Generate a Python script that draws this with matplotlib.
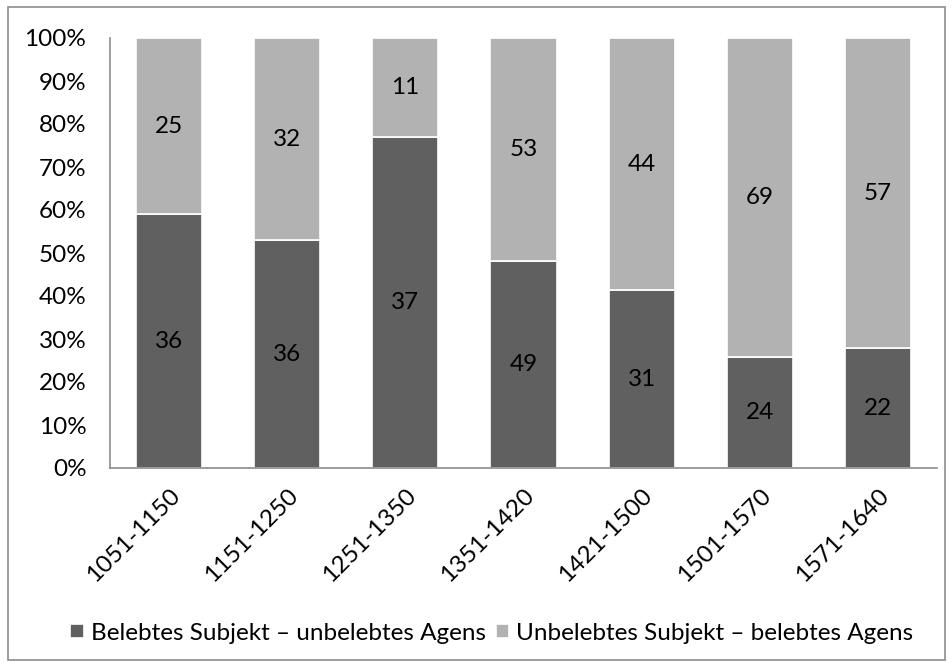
import numpy as np
import matplotlib
matplotlib.use('Agg')
from matplotlib import pyplot as plt
from matplotlib.patches import Rectangle

# Counts per period
periods = ['1051-1150', '1151-1250', '1251-1350', '1351-1420',
           '1421-1500', '1501-1570', '1571-1640']
belebt_subj = np.array([36, 36, 37, 49, 31, 24, 22])
unbelebt_subj = np.array([25, 32, 11, 53, 44, 69, 57])
series_names = ['Belebtes Subjekt \u2013 unbelebtes Agens',
                'Unbelebtes Subjekt \u2013 belebtes Agens']
colors = ['#606060', '#b2b2b2']

plt.rcParams['font.family'] = ['Lato', 'DejaVu Sans']
fs = 17.5

total = belebt_subj + unbelebt_subj
share_a = belebt_subj / total
share_b = unbelebt_subj / total

fig = plt.figure(figsize=(9.53, 6.66), dpi=100)
ax = fig.add_axes([110 / 953, 1 - 468 / 666, 827 / 953, 430 / 666])

x = np.arange(len(periods))
w = 0.56
ax.bar(x, share_a, w, color=colors[0], edgecolor='white', linewidth=1.2,
       label=series_names[0])
ax.bar(x, share_b, w, bottom=share_a, color=colors[1], edgecolor='white',
       linewidth=1.2, label=series_names[1])

for i in range(len(periods)):
    ax.text(x[i], share_a[i] / 2, str(belebt_subj[i]), ha='center',
            va='center', fontsize=fs, color='black')
    ax.text(x[i], share_a[i] + share_b[i] / 2, str(unbelebt_subj[i]),
            ha='center', va='center', fontsize=fs, color='black')

ax.set_xlim(-0.5, len(periods) - 0.5)
ax.set_ylim(0, 1)
ax.set_yticks(np.arange(0, 1.01, 0.1))
ax.set_yticklabels(['{:d}%'.format(int(round(v * 100)))
                    for v in np.arange(0, 1.01, 0.1)])
ax.set_xticks(x)
ax.set_xticklabels(periods, rotation=45, ha='right', rotation_mode='anchor')
ax.tick_params(axis='both', length=0, labelsize=fs, colors='black')
ax.tick_params(axis='y', pad=17)
ax.tick_params(axis='x', pad=12)
for side in ['top', 'right']:
    ax.spines[side].set_visible(False)
for side in ['left', 'bottom']:
    ax.spines[side].set_color('#8c8c8c')
    ax.spines[side].set_linewidth(1.2)

fig.legend(loc='center', bbox_to_anchor=(492 / 953, 1 - 633 / 666), ncol=2,
           frameon=False, fontsize=fs, handlelength=0.55, handleheight=0.55,
           handletextpad=0.3, columnspacing=0.4)

# chart border
fig.patches.append(Rectangle((8 / 953, 6 / 666), 937 / 953, 653 / 666,
                             transform=fig.transFigure, fill=False,
                             edgecolor='#8c8c8c', linewidth=1.2))

fig.savefig('out.png', dpi=100)
plt.close(fig)
